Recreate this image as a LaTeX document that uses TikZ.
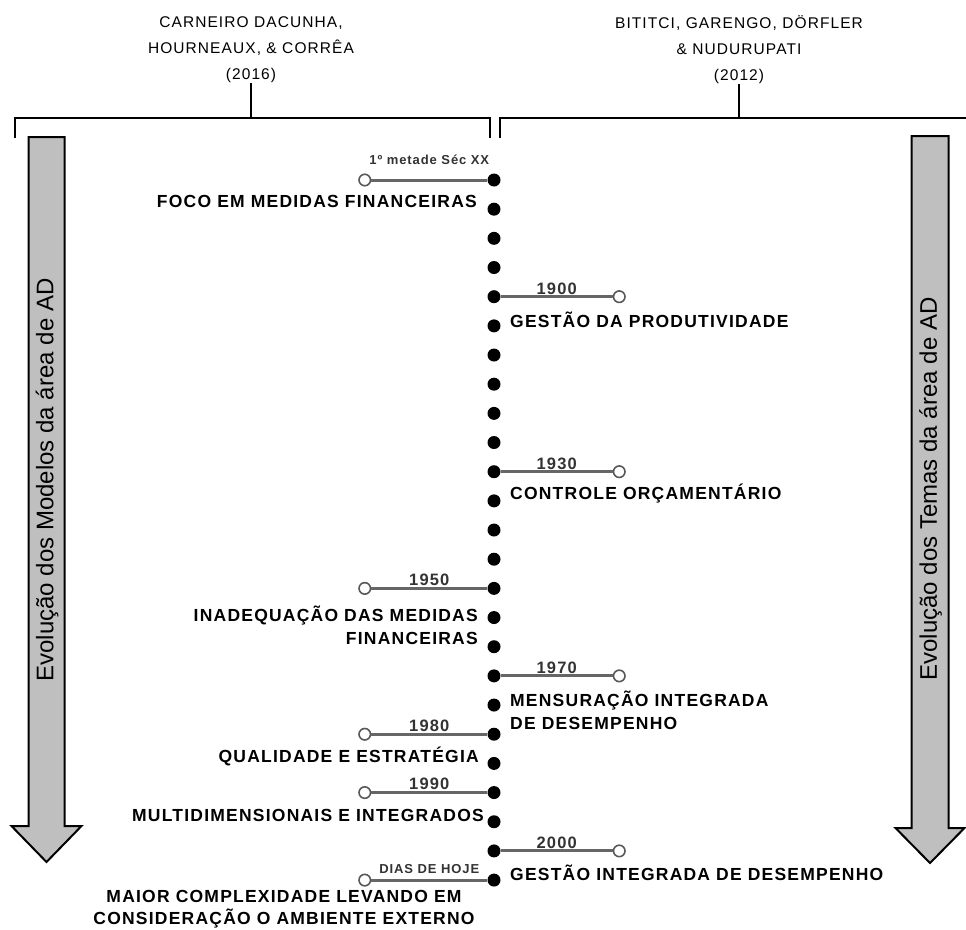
\documentclass[tikz,border=0pt]{standalone}
\usepackage{fontspec}
\setmainfont{Liberation Sans}
\newfontfamily\trackfont{Liberation Sans}[LetterSpace=7]
\usetikzlibrary{positioning}

\begin{document}
\begin{tikzpicture}[x=1pt,y=-1pt,
    dot/.style={circle,fill=black,inner sep=0pt,minimum size=13pt},
    hollow/.style={circle,draw=black!65,fill=white,line width=1.6pt,inner sep=0pt,minimum size=11.5pt},
    era/.style={draw=black!60,line width=3pt},
    year/.style={above,inner sep=1pt,text=black!80,font=\trackfont\bfseries\fontsize{16.5}{16.5}\selectfont},
    note/.style={above,inner sep=1pt,text=black!80,font=\trackfont\bfseries\fontsize{13}{13}\selectfont},
    theme/.style={inner sep=0pt,font=\trackfont\bfseries\fontsize{17.5}{22.5}\selectfont},
    author/.style={inner sep=0pt,align=center,font=\trackfont\fontsize{15.5}{26}\selectfont},
    brace/.style={draw,line width=2.5pt},
    bigarrow/.style={draw,fill=black!25,line width=2pt},
    axis/.style={inner sep=0pt,rotate=90,font=\fontsize{24}{24}\selectfont}]
    \useasboundingbox (0,0) rectangle (966,929);

    % autores e chaves
    \node[author] (carneiro) at (251,50) {CARNEIRO DACUNHA,\\HOURNEAUX, \& CORRÊA\\(2016)};
    \node[author] (bititci) at (739,50) {BITITCI, GARENGO, DÖRFLER\\\& NUDURUPATI\\(2012)};
    \draw[brace] (15,138) |- (490,118) -- (490,138);
    \draw[brace] (500,138) |- (966,118);
    \draw[brace] (carneiro.south) -- (carneiro.south |- 0,118);
    \draw[brace] (bititci.south) -- (bititci.south |- 0,118);

    % setas laterais
    \draw[bigarrow] (28.5,137) -- (64.5,137) -- (64.5,826) -- (81.5,826) -- (46.5,862)
        -- (11.5,826) -- (28.5,826) -- cycle;
    \draw[bigarrow] (911.5,136) -- (948.5,136) -- (948.5,828) -- (964.5,828) -- (930,863)
        -- (895.5,828) -- (911.5,828) -- cycle;
    \node[axis] (modelos) at (47,480) {Evolução dos Modelos da área de AD};
    \node[axis] (temas) at (930.5,489) {Evolução dos Temas da área de AD};

    % linha do tempo
    \foreach \k in {0,...,24}
        \node[dot] (d\k) at (494,{180+29.17*\k}) {};

    \node[hollow,left=116pt of d0] (h0) {};
    \draw[era] (d0) -- node[note,above=13pt] {1º metade Séc XX} (h0);
    \foreach \k/\yr in {14/1950,19/1980,21/1990} {
        \node[hollow,left=116pt of d\k] (h\k) {};
        \draw[era] (d\k) -- node[year] {\yr} (h\k);
    }
    \node[hollow,left=116pt of d24] (h24) {};
    \draw[era] (d24) -- node[note,above=4pt] {DIAS DE HOJE} (h24);
    \foreach \k/\yr in {4/1900,10/1930,17/1970,23/2000} {
        \node[hollow,right=112pt of d\k] (h\k) {};
        \draw[era] (d\k) -- node[year] {\yr} (h\k);
    }

    % temas
    \node[theme,anchor=base east] (foco) at (477,207) {FOCO EM MEDIDAS FINANCEIRAS};
    \node[theme,anchor=north east,align=right] (inadequacao) at (478,606) {INADEQUAÇÃO DAS MEDIDAS\\FINANCEIRAS};
    \node[theme,anchor=base east] (qualidade) at (479,762) {QUALIDADE E ESTRATÉGIA};
    \node[theme,anchor=base east] (multi) at (484,821) {MULTIDIMENSIONAIS E INTEGRADOS};
    \node[theme,anchor=north,align=center] (maior) at (284,890) {MAIOR COMPLEXIDADE LEVANDO EM\\CONSIDERAÇÃO O AMBIENTE EXTERNO};
    \node[theme,anchor=base west] (produtividade) at (510,327) {GESTÃO DA PRODUTIVIDADE};
    \node[theme,anchor=base west] (orcamento) at (510,499) {CONTROLE ORÇAMENTÁRIO};
    \node[theme,anchor=north west,align=left] (mensuracao) at (510,691) {MENSURAÇÃO INTEGRADA\\DE DESEMPENHO};
    \node[theme,anchor=base west] (gestao) at (510,880) {GESTÃO INTEGRADA DE DESEMPENHO};
\end{tikzpicture}
\end{document}
